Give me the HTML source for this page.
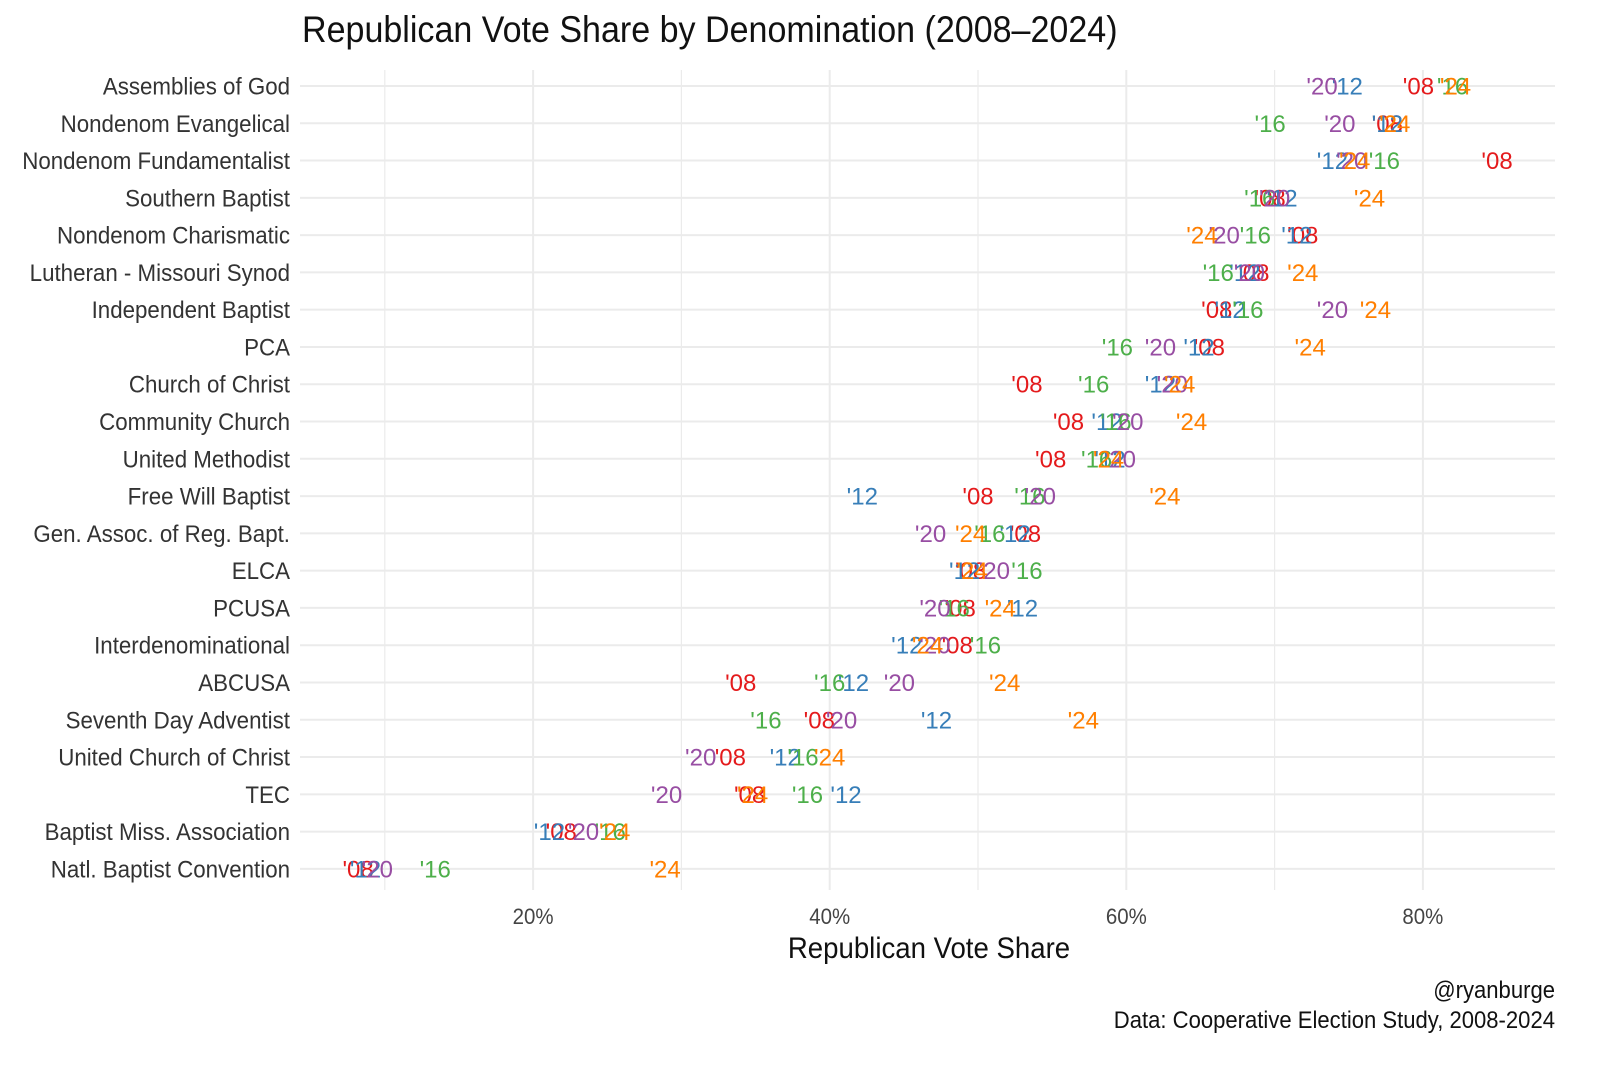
<!DOCTYPE html>
<html><head><meta charset="utf-8"><style>
body{margin:0;background:#fff;}
svg text{font-family:"Liberation Sans Narrow","Liberation Sans",sans-serif;}
</style></head><body>
<svg id="chart" width="1600" height="1066" viewBox="0 0 1600 1066" xmlns="http://www.w3.org/2000/svg">
<rect width="1600" height="1066" fill="#fff"/>
<text transform="translate(302,42) scale(0.92,1)" font-size="37" fill="#111">Republican Vote Share by Denomination (2008–2024)</text>
<g id="grid"></g><g id="ylabels"></g><g id="xticks"></g><g id="marks"></g>
<text transform="translate(929,958) scale(0.92,1)" font-size="30" text-anchor="middle" fill="#111">Republican Vote Share</text>
<text transform="translate(1555,998) scale(0.92,1)" font-size="24" text-anchor="end" fill="#111">@ryanburge</text>
<text transform="translate(1555,1028) scale(0.92,1)" font-size="24" text-anchor="end" fill="#111">Data: Cooperative Election Study, 2008-2024</text>
</svg>
<script>
const categories=["Assemblies of God","Nondenom Evangelical","Nondenom Fundamentalist","Southern Baptist","Nondenom Charismatic","Lutheran - Missouri Synod","Independent Baptist","PCA","Church of Christ","Community Church","United Methodist","Free Will Baptist","Gen. Assoc. of Reg. Bapt.","ELCA","PCUSA","Interdenominational","ABCUSA","Seventh Day Adventist","United Church of Christ","TEC","Baptist Miss. Association","Natl. Baptist Convention"];
const years=["'08","'12","'16","'20","'24"];
const v08=[79.7,77.6,85.0,69.7,71.9,68.6,66.1,65.6,53.3,56.1,54.9,50.0,53.2,49.5,48.8,48.6,34.0,39.3,33.3,34.6,21.9,8.2];
const v12=[74.9,77.6,73.9,70.5,71.5,68.0,67.0,64.9,62.3,58.7,58.9,42.2,52.5,49.1,53.0,45.2,41.6,47.2,37.0,41.1,21.1,8.7];
const v16=[82.0,69.7,77.4,69.0,68.7,66.2,68.2,59.4,57.8,59.3,58.0,53.5,50.8,53.3,48.4,50.5,40.0,35.7,38.2,38.5,25.2,13.4];
const v20=[73.2,74.4,75.2,70.0,66.6,68.3,73.9,62.3,63.1,60.1,59.6,54.2,46.8,51.1,47.1,47.1,44.7,40.8,31.3,29.0,23.4,9.5];
const v24=[82.2,78.1,75.4,76.4,65.1,71.9,76.8,72.4,63.6,64.4,58.8,62.6,49.5,49.6,51.5,46.6,51.8,57.1,40.0,34.8,25.5,28.9];
const xTicks=[20,40,60,80];
const series=[v08,v12,v16,v20,v24];
const colors=["#e41a1c","#377eb8","#4daf4a","#984ea3","#ff7f00"];
const NS="http://www.w3.org/2000/svg";
const x=p=>236.5+p*14.83;
const y=i=>86+i*37.28;
const L=300,R=1555,T=70,B=890;
function mk(tag,attrs,parent){const e=document.createElementNS(NS,tag);for(const k in attrs)e.setAttribute(k,attrs[k]);parent.appendChild(e);return e;}
const grid=document.getElementById('grid');
for(let p=10;p<=80;p+=10){
  const g=mk('line',{x1:x(p),x2:x(p),y1:T,y2:B,stroke:'#ebebeb','stroke-width':p%20==0?2:1.2},grid);
  
  
}
categories.forEach((c,i)=>{
  const g=mk('line',{x1:L,x2:R,y1:y(i),y2:y(i),stroke:'#ebebeb','stroke-width':2},grid);
  
  
  const t=mk('text',{transform:`translate(290,${y(i)+8.5}) scale(0.93,1)`,'font-size':24,'text-anchor':'end',fill:'#333'},document.getElementById('ylabels'));
  t.textContent=c;
  
  
});
xTicks.forEach(p=>{
  const t=mk('text',{transform:`translate(${x(p)},924) scale(0.93,1)`,'font-size':22,'text-anchor':'middle',fill:'#444'},document.getElementById('xticks'));
  t.textContent=p+'%';
  
  
});
const marks=document.getElementById('marks');
series.forEach((s,k)=>{
  s.forEach((v,i)=>{
    const t=mk('text',{x:x(v),y:y(i)+8.5,'font-size':24,'text-anchor':'middle',fill:colors[k]},marks);
    t.textContent=years[k];
    
    
  });
});
</script>
</body></html>
